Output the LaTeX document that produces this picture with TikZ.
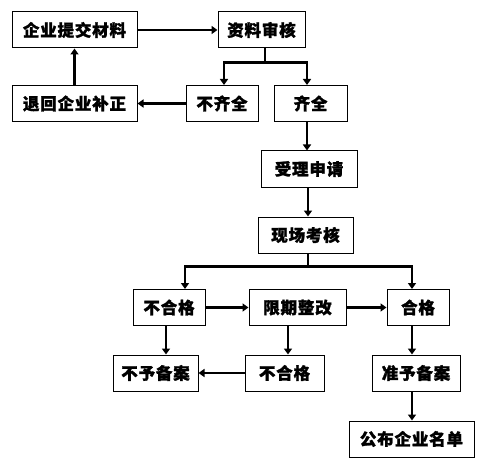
\documentclass[tikz,border=0pt]{standalone}
\usepackage{fontspec}
\newfontfamily\cjk[LetterSpace=5, BoldFeatures={FakeBold=1.5}]{Noto Sans CJK SC}
\usetikzlibrary{arrows.meta}

\begin{document}
\begin{tikzpicture}[x=1pt, y=-1pt, >={Triangle[length=6pt,width=8pt]},
  box/.style={draw, line width=1pt, minimum height=36pt, inner sep=0pt,
    font=\cjk\bfseries\fontsize{16.5}{16.5}\selectfont},
  link/.style={->, line width=2.2pt}]
  \useasboundingbox (0,0) rectangle (482,468);
  \node[box, minimum width=125pt] (sub)   at (74.5,30)   {企业提交材料};
  \node[box, minimum width=87pt]  (rev)   at (261.5,30)  {资料审核};
  \node[box, minimum width=125pt] (ret)   at (74.5,103.5) {退回企业补正};
  \node[box, minimum width=72pt]  (inc)   at (222,103.5) {不齐全};
  \node[box, minimum width=73pt]  (com)   at (310.5,103.5) {齐全};
  \node[box, minimum width=96pt]  (acc)   at (309,169)   {受理申请};
  \node[box, minimum width=95pt]  (ins)   at (305.5,235) {现场考核};
  \node[box, minimum width=72pt]  (failA) at (169,307.5) {不合格};
  \node[box, minimum width=97pt]  (fix)   at (297.5,307.5) {限期整改};
  \node[box, minimum width=62pt]  (pass)  at (418,307.5) {合格};
  \node[box, minimum width=85pt]  (rej)   at (155.5,373) {不予备案};
  \node[box, minimum width=79pt]  (failB) at (284.5,373) {不合格};
  \node[box, minimum width=88pt]  (grant) at (416,373)   {准予备案};
  \node[box, minimum width=125pt] (pub)   at (411.5,439) {公布企业名单};
  \path[link] (sub) edge (rev)
        (ret) edge (sub)
        (inc) edge (ret)
        (failA) edge (fix)
        (fix) edge (pass)
        (failB) edge (rej);
  \draw[link] ([xshift=3.5pt]rev.south) -- ++(0,14) -| ([xshift=2pt]inc.north);
  \draw[link] ([xshift=3.5pt]rev.south) -- ++(0,14) -| ([xshift=-3.5pt]com.north);
  \draw[link] ([xshift=-3.5pt]com.south) -- ([xshift=-3.5pt]com.south |- acc.north);
  \draw[link] ([xshift=-1pt]acc.south) -- ([xshift=-1pt]acc.south |- ins.north);
  \draw[link] ([xshift=2.5pt]ins.south) -- ++(0,13) -| ([xshift=16pt]failA.north);
  \draw[link] ([xshift=2.5pt]ins.south) -- ++(0,13) -| ([xshift=-6pt]pass.north);
  \draw[link] ([xshift=-3pt]failA.south) -- ([xshift=-3pt]failA.south |- rej.north);
  \draw[link] ([xshift=-9.5pt]fix.south) -- ([xshift=-9.5pt]fix.south |- failB.north);
  \draw[link] ([xshift=-6pt]pass.south) -- ([xshift=-6pt]pass.south |- grant.north);
  \draw[link] ([xshift=-4pt]grant.south) -- ([xshift=-4pt]grant.south |- pub.north);
\end{tikzpicture}
\end{document}
